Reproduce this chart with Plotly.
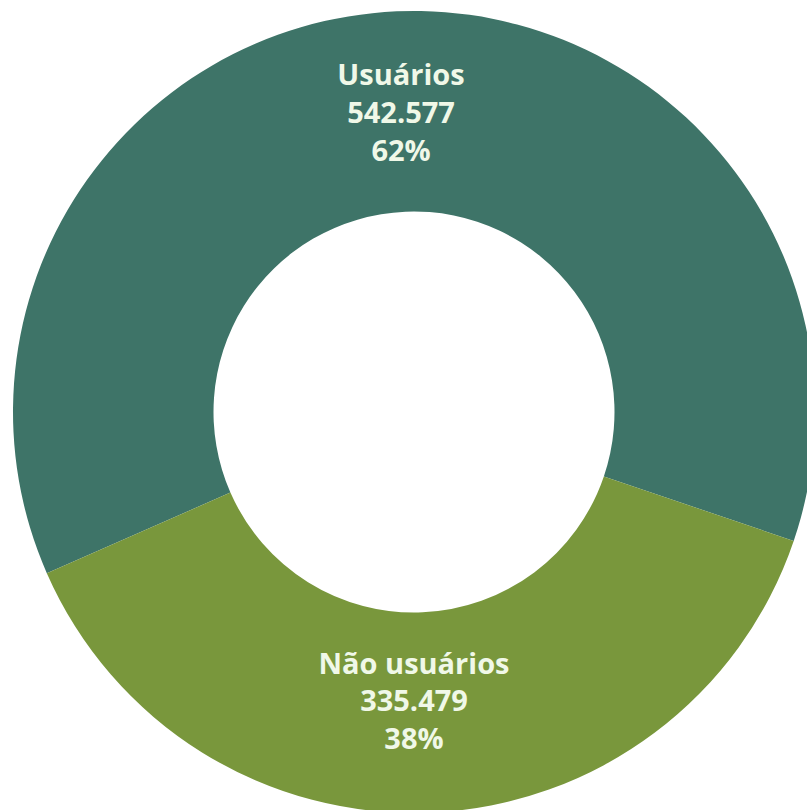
import plotly.graph_objects as go

categories = ["Usuários", "Não usuários"]
values = [542577, 335479]
colors = ["#3e7468", "#79973c"]

W, H = 830, 830
cx, cy, r = 414, 412, 401

fig = go.Figure(go.Pie(
    labels=categories,
    values=values,
    hole=0.5,
    sort=False,
    direction="clockwise",
    rotation=246.3,
    marker=dict(colors=colors, line=dict(width=0)),
    texttemplate="%{label}<br>%{value:,}<br>%{percent:.0%}",
    textposition="inside",
    insidetextorientation="horizontal",
    textfont=dict(family="Open Sans", size=29, color="#f0f8e8", weight="bold"),
    hoverinfo="skip",
    domain=dict(x=[(cx - r) / W, (cx + r) / W], y=[1 - (cy + r) / H, 1 - (cy - r) / H]),
))

fig.update_layout(
    width=W, height=H,
    margin=dict(l=0, r=0, t=0, b=0),
    showlegend=False,
    separators=",.",
    paper_bgcolor="white",
    plot_bgcolor="white",
)

fig.write_html(
    "out.html",
    config={"displayModeBar": False},
    post_script="document.body.style.margin='0';document.body.style.overflow='hidden';",
)
